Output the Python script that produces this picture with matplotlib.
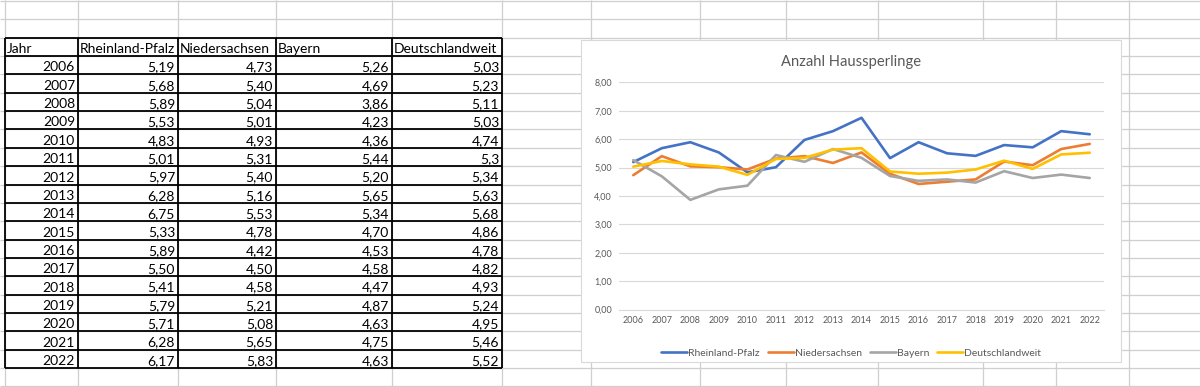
import matplotlib
matplotlib.use("Agg")
import matplotlib.pyplot as plt
from matplotlib.patches import Rectangle

plt.rcParams["font.family"] = ["Lato", "DejaVu Sans"]

# sheet data as it shows in the cells
YEARS = [2006, 2007, 2008, 2009, 2010, 2011, 2012, 2013, 2014,
         2015, 2016, 2017, 2018, 2019, 2020, 2021, 2022]
HEADERS = ["Jahr", "Rheinland-Pfalz", "Niedersachsen", "Bayern", "Deutschlandweit"]
RHEINLAND_PFALZ = ["5,19", "5,68", "5,89", "5,53", "4,83", "5,01", "5,97", "6,28", "6,75",
                   "5,33", "5,89", "5,50", "5,41", "5,79", "5,71", "6,28", "6,17"]
NIEDERSACHSEN = ["4,73", "5,40", "5,04", "5,01", "4,93", "5,31", "5,40", "5,16", "5,53",
                 "4,78", "4,42", "4,50", "4,58", "5,21", "5,08", "5,65", "5,83"]
BAYERN = ["5,26", "4,69", "3,86", "4,23", "4,36", "5,44", "5,20", "5,65", "5,34",
          "4,70", "4,53", "4,58", "4,47", "4,87", "4,63", "4,75", "4,63"]
DEUTSCHLANDWEIT = ["5,03", "5,23", "5,11", "5,03", "4,74", "5,3", "5,34", "5,63", "5,68",
                   "4,86", "4,78", "4,82", "4,93", "5,24", "4,95", "5,46", "5,52"]
SERIES = [RHEINLAND_PFALZ, NIEDERSACHSEN, BAYERN, DEUTSCHLANDWEIT]
COLORS = ["#4472C4", "#ED7D31", "#A5A5A5", "#FFC000"]
Y_TICKS = [0, 1, 2, 3, 4, 5, 6, 7, 8]


def num(s):
    return float(s.replace(",", "."))


W, H = 1200, 387
fig = plt.figure(figsize=(W / 100, H / 100), dpi=100)

# ---- spreadsheet background (pixel coords) ----
bg = fig.add_axes([0, 0, 1, 1])
bg.set_xlim(0, W); bg.set_ylim(H, 0); bg.axis("off")

row_h = 18.35
row_y = [1 + row_h * k for k in range(22)]
col_x = [5, 78, 178, 276, 392, 502, 591, 700, 786, 878, 983, 1056, 1129]
bg.hlines(row_y, 0, W, color="#cfcfcf", lw=0.9, zorder=0)
bg.vlines(col_x, 0, H, color="#cfcfcf", lw=0.9, zorder=0)

# table
t_rows = row_y[2:2 + len(YEARS) + 2]
t_cols = col_x[:6]
bg.hlines(t_rows, t_cols[0], t_cols[-1], color="black", lw=1.3, zorder=2)
bg.vlines(t_cols, t_rows[0], t_rows[-1], color="black", lw=1.3, zorder=2)

for c, h in enumerate(HEADERS):
    bg.text(t_cols[c] + 2, t_rows[1] - 3, h, ha="left", va="baseline",
            fontsize=10, color="black", zorder=3)
for r, yr in enumerate(YEARS):
    base = t_rows[r + 2] - 3
    bg.text(t_cols[1] - 3, base, str(yr), ha="right", va="baseline", fontsize=10, zorder=3)
    for c, ser in enumerate(SERIES):
        bg.text(t_cols[c + 2] - 3, base, ser[r], ha="right", va="baseline",
                fontsize=10, zorder=3)

# chart box
bg.add_patch(Rectangle((581, 40), 540, 322, facecolor="white",
                       edgecolor="#d9d9d9", lw=0.8, zorder=4))
bg.text(851, 62, "Anzahl Haussperlinge", ha="center", va="center",
        fontsize=10.6, color="#595959", zorder=5)

# ---- line chart ----
ax = fig.add_axes([619 / W, (H - 309.5) / H, 485 / W, 227.2 / H])
ax.patch.set_alpha(0)
x = list(range(len(YEARS)))
for name, ser, col in zip(HEADERS[1:], SERIES, COLORS):
    ax.plot(x, [num(v) for v in ser], color=col, lw=1.9, label=name,
            solid_joinstyle="round", solid_capstyle="round")

ax.set_xlim(-0.5, len(YEARS) - 0.5)
ax.set_ylim(0, 8)
ax.set_yticks(Y_TICKS)
ax.set_yticklabels([f"{v:.2f}".replace(".", ",") for v in Y_TICKS])
ax.set_xticks(x)
ax.set_xticklabels([str(y) for y in YEARS])
ax.tick_params(length=0, labelsize=6.5, colors="#595959", pad=5)
ax.grid(axis="y", color="#d9d9d9", lw=0.8)
ax.set_axisbelow(True)
for s in ["top", "right", "left"]:
    ax.spines[s].set_visible(False)
ax.spines["bottom"].set_color("#d9d9d9")
ax.spines["bottom"].set_linewidth(0.8)

fig.legend(loc="center", bbox_to_anchor=(851 / W, (H - 353) / H), ncol=4,
           frameon=False, fontsize=7.5, handlelength=2.5, handletextpad=0.1,
           columnspacing=0.75, labelcolor="#595959")

fig.savefig("out.png", dpi=100)
